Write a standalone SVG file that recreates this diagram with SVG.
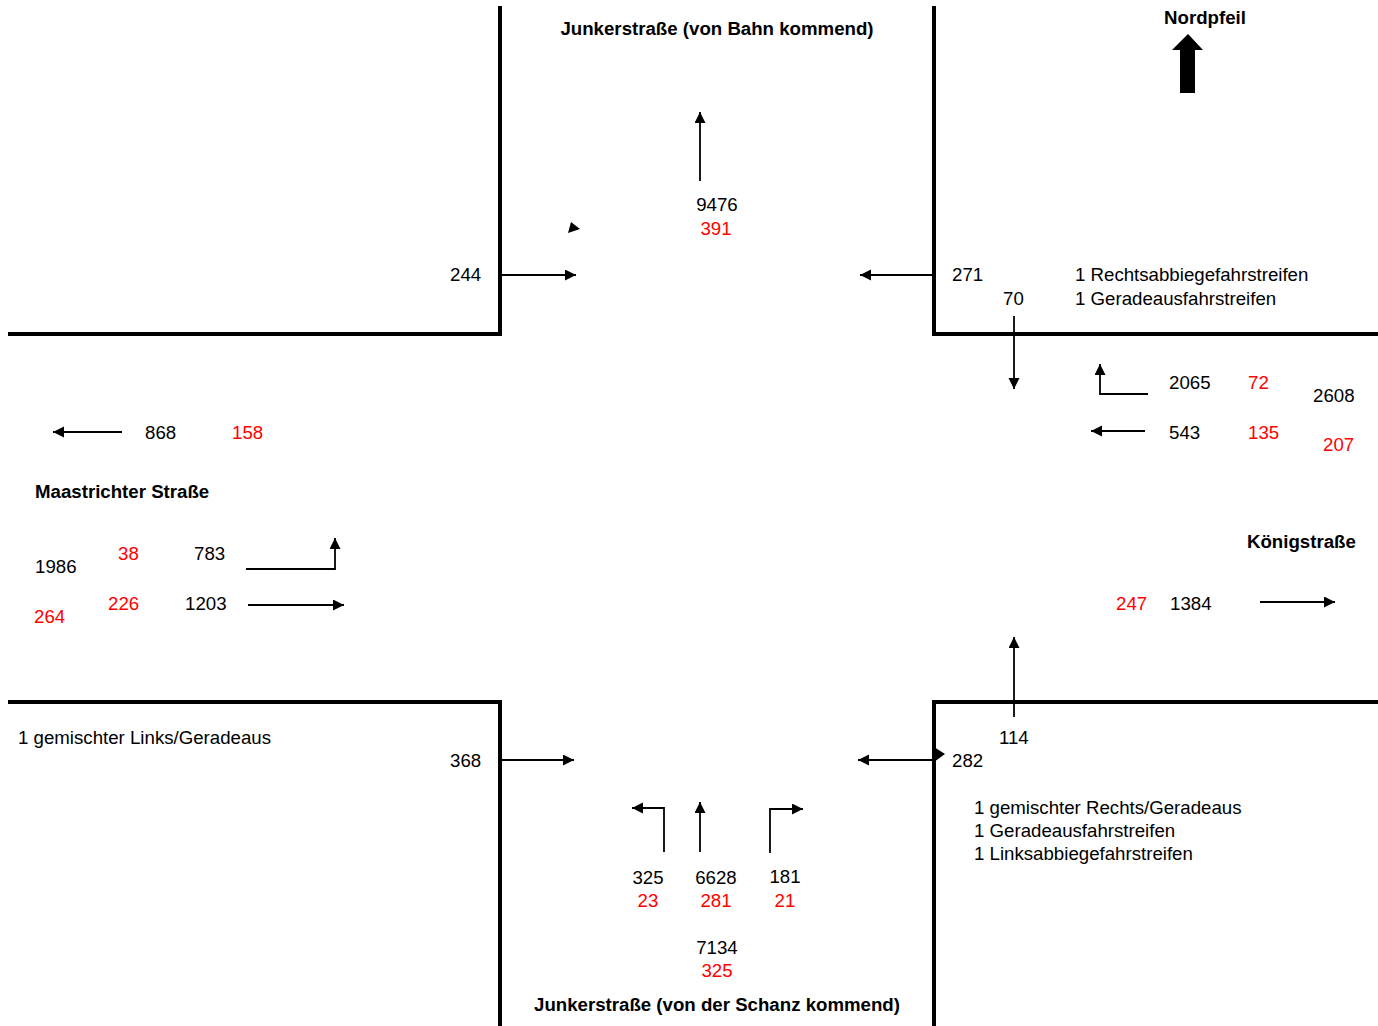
<svg xmlns="http://www.w3.org/2000/svg" width="1378" height="1026" viewBox="0 0 1378 1026">
<style>
text{font-family:"Liberation Sans",Arial,sans-serif;font-size:18.67px;fill:#000}
.b{font-weight:bold}
.r{fill:#ff0000}
.m{text-anchor:middle}
.wall{fill:none;stroke:#000;stroke-width:4}
.a{fill:none;stroke:#000;stroke-width:1.8;marker-end:url(#ah)}
</style>
<defs>
<marker id="ah" markerUnits="userSpaceOnUse" markerWidth="12" markerHeight="12" refX="11" refY="5.5" orient="auto">
<path d="M0,0 L11,5.5 L0,11 z" fill="#000"/>
</marker>
</defs>
<rect width="1378" height="1026" fill="#fff"/>
<g id="walls">
<polyline class="wall" points="500,6 500,334 8,334"/>
<polyline class="wall" points="934,6 934,334 1378,334"/>
<polyline class="wall" points="8,702 500,702 500,1026"/>
<polyline class="wall" points="1378,702 934,702 934,1026"/>
</g>
<g id="connectors">
<line class="a" x1="700" y1="181" x2="700" y2="112"/>
<polygon points="568,233 571,222 580,229" fill="#000"/>
<line class="a" x1="502" y1="275" x2="576" y2="275"/>
<line class="a" x1="934" y1="275" x2="860" y2="275"/>
<line class="a" x1="1014" y1="316" x2="1014" y2="389"/>
<polyline class="a" points="1148,394 1100,394 1100,364"/>
<line class="a" x1="1145" y1="431" x2="1091" y2="431"/>
<line class="a" x1="122" y1="432" x2="53" y2="432"/>
<polyline class="a" points="246,569 335,569 335,538"/>
<line class="a" x1="248" y1="605" x2="344" y2="605"/>
<line class="a" x1="1260" y1="602" x2="1335" y2="602"/>
<line class="a" x1="1014" y1="717" x2="1014" y2="637"/>
<line class="a" x1="502" y1="760" x2="574" y2="760"/>
<line class="a" x1="934" y1="760" x2="858" y2="760"/>
<polygon points="934,747 945,754 934,762" fill="#000"/>
<polyline class="a" points="664,852 664,808 632,808"/>
<line class="a" x1="700" y1="852" x2="700" y2="802"/>
<polyline class="a" points="770,853 770,809 803,809"/>
</g>
<g id="north">
<text class="b m" x="1205" y="24">Nordpfeil</text>
<polygon points="1188,34 1203,50 1195,50 1195,93 1180,93 1180,50 1172,50" fill="#000"/>
</g>
<g id="junker-nord">
<text class="b m" x="717" y="35">Junkerstraße (von Bahn kommend)</text>
<text class="m" x="717" y="211">9476</text>
<text class="m r" x="716" y="235">391</text>
</g>
<g id="nw-in">
<text x="450" y="281">244</text>
</g>
<g id="ne-out">
<text x="952" y="281">271</text>
<text x="1003" y="305">70</text>
<text x="1075" y="281">1 Rechtsabbiegefahrstreifen</text>
<text x="1075" y="305">1 Geradeausfahrstreifen</text>
</g>
<g id="koenig-in">
<text x="1169" y="389">2065</text>
<text class="r" x="1248" y="389">72</text>
<text x="1313" y="402">2608</text>
<text x="1169" y="439">543</text>
<text class="r" x="1248" y="439">135</text>
<text class="r" x="1323" y="451">207</text>
</g>
<g id="maastricht">
<text x="145" y="439">868</text>
<text class="r" x="232" y="439">158</text>
<text class="b" x="35" y="498">Maastrichter Straße</text>
<text x="35" y="573">1986</text>
<text class="r" x="118" y="560">38</text>
<text x="194" y="560">783</text>
<text class="r" x="34" y="623">264</text>
<text class="r" x="108" y="610">226</text>
<text x="185" y="610">1203</text>
</g>
<g id="koenig-out">
<text class="b" x="1247" y="548">Königstraße</text>
<text class="r" x="1116" y="610">247</text>
<text x="1170" y="610">1384</text>
</g>
<g id="sw">
<text x="18" y="744">1 gemischter Links/Geradeaus</text>
<text x="450" y="767">368</text>
</g>
<g id="se">
<text x="999" y="744">114</text>
<text x="952" y="767">282</text>
<text x="974" y="814">1 gemischter Rechts/Geradeaus</text>
<text x="974" y="837">1 Geradeausfahrstreifen</text>
<text x="974" y="860">1 Linksabbiegefahrstreifen</text>
</g>
<g id="junker-sued">
<text class="m" x="648" y="884">325</text>
<text class="m r" x="648" y="907">23</text>
<text class="m" x="716" y="884">6628</text>
<text class="m r" x="716" y="907">281</text>
<text class="m" x="785" y="883">181</text>
<text class="m r" x="785" y="907">21</text>
<text class="m" x="717" y="954">7134</text>
<text class="m r" x="717" y="977">325</text>
<text class="b m" x="717" y="1011">Junkerstraße (von der Schanz kommend)</text>
</g>
</svg>
